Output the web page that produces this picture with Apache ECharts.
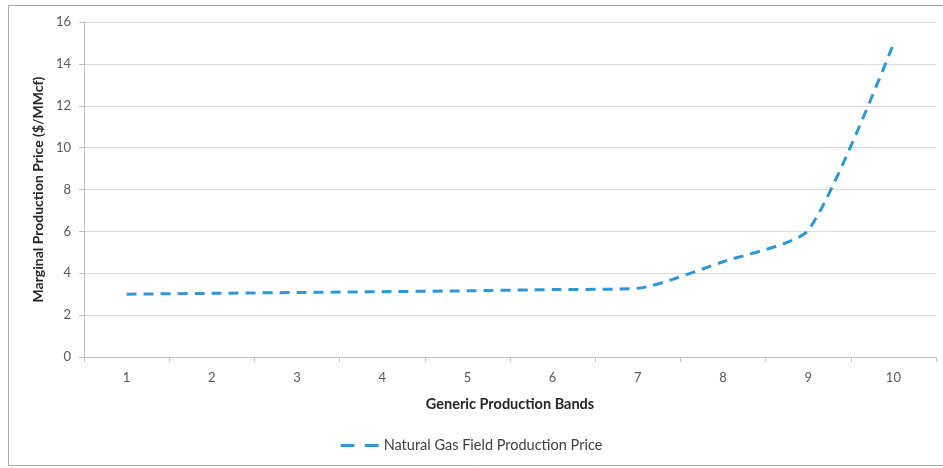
<!DOCTYPE html>
<html>
<head>
<meta charset="utf-8">
<script src="https://cdn.jsdelivr.net/npm/echarts@6/dist/echarts.min.js"></script>
<style>
  html, body { margin: 0; padding: 0; background: #ffffff; }
  #chart { width: 943px; height: 468px; }
</style>
</head>
<body>
<div id="chart"></div>
<script>
// Production bands on the horizontal axis
const bands = ['1', '2', '3', '4', '5', '6', '7', '8', '9', '10'];
// Marginal production price per band, $/MMcf
const gasPrice = [3.0, 3.04, 3.08, 3.12, 3.16, 3.22, 3.28, 4.55, 6.05, 14.95];
const seriesName = 'Natural Gas Field Production Price';

const chart = echarts.init(document.getElementById('chart'), null, { renderer: 'canvas' });
const font = 'Lato, "Open Sans", "Liberation Sans", sans-serif';

chart.setOption({
  animation: false,
  backgroundColor: '#ffffff',
  graphic: [{
    type: 'rect',
    shape: { x: 8.5, y: 5.5, width: 960, height: 460 },
    style: { fill: 'none', stroke: '#a6a6a6', lineWidth: 1 },
    silent: true
  }],
  grid: { left: 84, right: 7, top: 22, bottom: 111 },
  legend: {
    bottom: 10,
    left: 'center',
    itemWidth: 38,
    itemHeight: 12,
    itemGap: 10,
    textStyle: { color: '#404040', fontSize: 14.5, fontFamily: font },
    data: [{ name: seriesName, icon: 'path://M0,5 L13,5 L13,8 L0,8 Z M23,5 L36,5 L36,8 L23,8 Z' }]
  },
  xAxis: {
    type: 'category',
    data: bands,
    boundaryGap: true,
    name: 'Generic Production Bands',
    nameLocation: 'middle',
    nameGap: 40,
    nameTextStyle: { color: '#262626', fontSize: 14.5, fontWeight: 'bold', fontFamily: font },
    axisLine: { lineStyle: { color: '#bfbfbf', width: 1 } },
    axisTick: { show: true, alignWithLabel: false, length: 5, lineStyle: { color: '#bfbfbf' } },
    axisLabel: { color: '#595959', fontSize: 13, fontFamily: font, margin: 14 },
    splitLine: { show: false }
  },
  yAxis: {
    type: 'value',
    min: 0,
    max: 16,
    interval: 2,
    name: 'Marginal Production Price ($/MMcf)',
    nameLocation: 'middle',
    nameGap: 33,
    nameTextStyle: { color: '#262626', fontSize: 14, fontWeight: 'bold', fontFamily: font },
    axisLine: { show: true, lineStyle: { color: '#bfbfbf', width: 1 } },
    axisTick: { show: true, length: 5, lineStyle: { color: '#bfbfbf' } },
    axisLabel: { color: '#595959', fontSize: 13, fontFamily: font, margin: 13 },
    splitLine: { lineStyle: { color: '#d9d9d9', width: 1 } }
  },
  series: [{
    name: seriesName,
    type: 'line',
    data: gasPrice,
    smooth: 0.2,
    showSymbol: false,
    symbol: 'none',
    color: '#2f97d8',
    lineStyle: { color: '#2f97d8', width: 3, type: [10, 7] }
  }]
});
</script>
</body>
</html>
